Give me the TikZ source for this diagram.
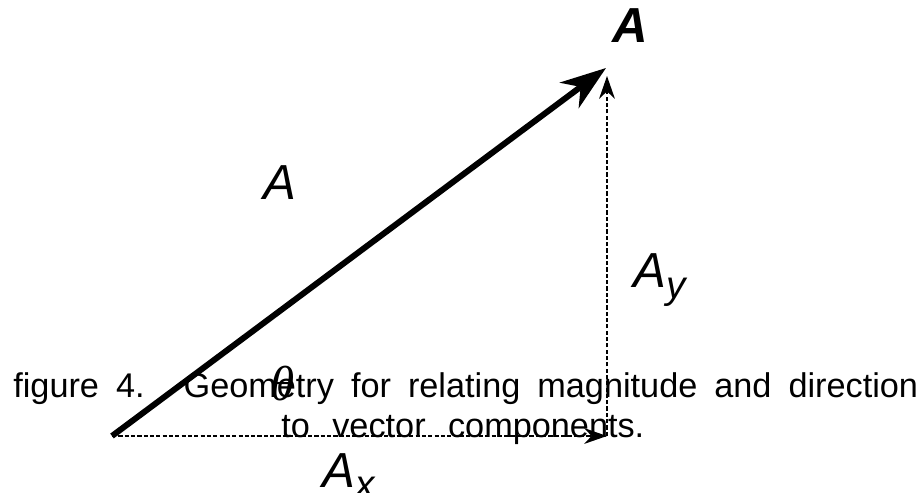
\documentclass[tikz,border=0pt]{standalone}
\usepackage{fontspec}
\setmainfont{Liberation Sans}
\newfontfamily\thetafont{Liberation Serif}
\usetikzlibrary{arrows.meta}

\begin{document}
\begin{tikzpicture}[
  x=0.02cm, y=-0.02cm,
  vec/.style     = {-{Stealth[length=26pt, width=18pt, inset=8pt]}, line width=3.4pt, black},
  comp/.style    = {-{Stealth[length=13pt, width=9pt]}, line width=0.9pt, black,
                    dash pattern=on 2.4pt off 1.2pt},
  lab/.style     = {anchor=base west, inner sep=0pt, font=\fontsize{28}{32}\selectfont\itshape},
  caption/.style = {anchor=base west, inner sep=0pt, font=\fontsize{19.5}{23}\selectfont}
]
\useasboundingbox (0,0) rectangle (923,493);

\coordinate (origin) at (112,436);
\coordinate (tipA)   at (606,68);
\coordinate (corner) at (607,436);
\coordinate (tipY)   at (607,76);

\draw[vec]  (origin) -- (tipA);
\draw[comp] (origin) -- (corner);
\draw[comp] (corner) -- (tipY);

\node[lab, font=\fontsize{28}{32}\selectfont\bfseries\itshape] (headA) at (612,43) {A};
\node[lab] (magA)  at (263,200) {A};
\node[lab] (compY) at (633,288) {A\raisebox{-6pt}{\fontsize{22}{24}\selectfont y}};
\node[lab] (compX) at (322,487) {A\raisebox{-6pt}{\fontsize{22}{24}\selectfont x}};
\node[lab, font=\fontsize{28}{32}\selectfont\thetafont\itshape] (angle) at (270,400) {θ};

% caption, spread over its line as in the reference
\node[caption] (capone) at (13,397)
  {\makebox[18.1cm][s]{figure 4.\hspace{0.78cm}Geometry for relating magnitude and direction}};
\node[caption] (captwo) at (281,437)
  {\makebox[7.26cm][s]{to vector components.}};
\end{tikzpicture}
\end{document}
